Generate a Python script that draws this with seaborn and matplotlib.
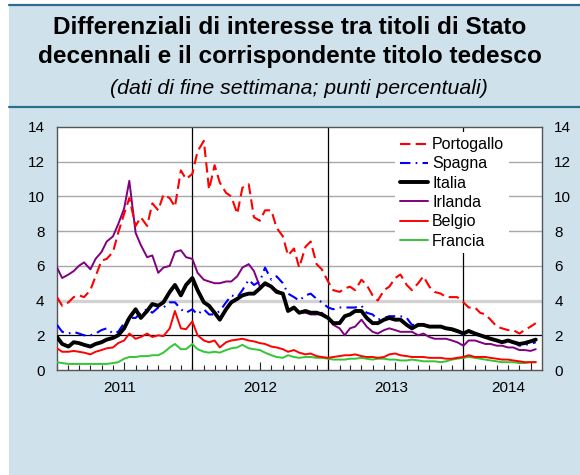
import numpy as np
import pandas as pd
import matplotlib
matplotlib.use("Agg")
import matplotlib.pyplot as plt
import matplotlib.dates as mdates
from matplotlib.patches import Rectangle
from matplotlib.lines import Line2D
import seaborn as sns

# ---------------- data (semi-monthly observations, Jan 2011 - Jul 2014) ----------------
dates = pd.date_range("2011-01-01", periods=86, freq="SMS")

portogallo = [4.2, 3.7, 3.9, 4.2, 4.3, 4.2, 4.6, 5.4, 6.3, 6.4, 6.8, 7.9, 9.0, 9.9, 8.3, 8.8,
              8.3, 9.6, 9.2, 10.1, 9.9, 9.4, 11.5, 11.0, 11.3, 12.6, 13.2, 10.4, 11.8, 10.8,
              10.2, 10.0, 9.0, 10.5, 10.7, 8.8, 8.6, 9.2, 9.2, 8.2, 7.7, 6.6, 7.0, 5.9, 7.1,
              7.4, 6.1, 5.8, 5.1, 4.6, 4.5, 4.7, 4.8, 4.6, 5.2, 4.9, 4.3, 4.0, 4.6, 4.8, 5.3,
              5.5, 4.9, 4.6, 5.0, 5.4, 4.8, 4.5, 4.4, 4.2, 4.2, 4.2, 3.9, 3.6, 3.6, 3.3, 3.2,
              2.9, 2.5, 2.4, 2.3, 2.3, 2.1, 2.3, 2.5, 2.7]
spagna = [2.6, 2.2, 2.1, 2.2, 2.1, 2.0, 2.0, 2.1, 2.3, 2.4, 2.1, 2.2, 2.7, 3.0, 3.0, 3.3,
          3.5, 3.3, 3.6, 3.6, 3.9, 3.9, 3.5, 3.3, 3.5, 3.2, 3.5, 3.2, 3.2, 3.4, 3.9, 4.3,
          4.2, 4.6, 5.2, 4.9, 5.1, 5.9, 5.2, 5.4, 5.0, 4.4, 4.2, 4.0, 4.3, 4.4, 4.1, 3.9,
          3.6, 3.5, 3.6, 3.6, 3.6, 3.6, 3.7, 3.3, 3.2, 2.9, 3.0, 3.1, 3.1, 3.1, 3.0, 2.6,
          2.6, 2.6, 2.5, 2.5, 2.5, 2.4, 2.3, 2.2, 2.0, 2.2, 2.1, 2.0, 1.9, 1.8, 1.7, 1.6,
          1.6, 1.6, 1.4, 1.45, 1.5, 1.6]
italia = [1.9, 1.5, 1.35, 1.6, 1.55, 1.45, 1.35, 1.5, 1.6, 1.75, 1.85, 2.0, 2.4, 3.0, 3.5,
          3.0, 3.4, 3.8, 3.7, 3.9, 4.5, 4.9, 4.3, 4.9, 5.3, 4.6, 3.9, 3.7, 3.3, 2.9, 3.5,
          3.9, 4.1, 4.3, 4.4, 4.4, 4.7, 5.0, 4.8, 4.5, 4.4, 3.4, 3.6, 3.3, 3.4, 3.3, 3.3,
          3.2, 3.0, 2.7, 2.7, 3.1, 3.2, 3.4, 3.4, 3.0, 2.7, 2.7, 2.9, 3.0, 2.9, 2.9, 2.6,
          2.4, 2.6, 2.6, 2.5, 2.5, 2.5, 2.4, 2.35, 2.25, 2.1, 2.25, 2.1, 2.0, 1.9, 1.8,
          1.7, 1.6, 1.7, 1.6, 1.5, 1.55, 1.65, 1.75]
irlanda = [5.9, 5.3, 5.5, 5.7, 6.0, 6.2, 5.8, 6.4, 6.8, 7.4, 7.7, 8.4, 9.3, 10.9, 7.9, 7.2,
           6.5, 6.6, 5.6, 5.9, 6.0, 6.8, 6.9, 6.5, 6.4, 5.6, 5.2, 5.1, 5.0, 5.0, 5.1, 5.1,
           5.4, 5.9, 6.1, 5.7, 4.8, 4.9, 4.8, 4.6, 4.4, 3.4, 3.6, 3.3, 3.3, 3.2, 3.2, 3.3,
           3.0, 2.6, 2.4, 2.0, 2.4, 2.5, 2.9, 2.5, 2.2, 2.1, 2.3, 2.4, 2.3, 2.2, 2.2, 2.2,
           2.0, 2.1, 1.9, 1.8, 1.8, 1.8, 1.7, 1.6, 1.4, 1.7, 1.7, 1.6, 1.5, 1.5, 1.4, 1.4,
           1.3, 1.3, 1.15, 1.15, 1.1, 1.2]
belgio = [1.25, 1.05, 1.05, 1.1, 1.05, 1.0, 0.9, 1.05, 1.15, 1.25, 1.3, 1.55, 1.7, 2.1, 1.8,
          1.9, 2.1, 1.9, 2.0, 1.95, 2.4, 3.4, 2.4, 2.35, 2.8, 2.0, 1.7, 1.6, 1.7, 1.3, 1.6,
          1.7, 1.75, 1.8, 1.7, 1.65, 1.55, 1.5, 1.35, 1.3, 1.2, 1.05, 1.15, 1.0, 0.9, 0.95,
          0.8, 0.75, 0.7, 0.75, 0.8, 0.85, 0.85, 0.9, 0.8, 0.75, 0.75, 0.7, 0.75, 0.9, 0.95,
          0.85, 0.8, 0.75, 0.75, 0.75, 0.7, 0.7, 0.7, 0.65, 0.65, 0.7, 0.75, 0.85, 0.75,
          0.75, 0.75, 0.7, 0.65, 0.6, 0.6, 0.55, 0.5, 0.45, 0.45, 0.45]
francia = [0.45, 0.4, 0.35, 0.35, 0.35, 0.35, 0.35, 0.35, 0.35, 0.35, 0.4, 0.45, 0.65, 0.75,
           0.75, 0.8, 0.8, 0.85, 0.85, 1.0, 1.3, 1.5, 1.2, 1.2, 1.5, 1.2, 1.05, 1.0, 1.05,
           1.0, 1.15, 1.25, 1.3, 1.45, 1.25, 1.2, 1.15, 1.0, 0.85, 0.75, 0.7, 0.85, 0.75,
           0.7, 0.75, 0.75, 0.7, 0.7, 0.65, 0.6, 0.6, 0.6, 0.65, 0.65, 0.7, 0.65, 0.6, 0.65,
           0.65, 0.6, 0.6, 0.55, 0.55, 0.6, 0.55, 0.5, 0.5, 0.5, 0.45, 0.5, 0.6, 0.65, 0.7,
           0.75, 0.7, 0.65, 0.6, 0.55, 0.5, 0.45, 0.45, 0.45, 0.4, 0.4, 0.45, 0.45]

series_names = ["Portogallo", "Spagna", "Italia", "Irlanda", "Belgio", "Francia"]
year_labels = ["2011", "2012", "2013", "2014"]
y_ticks = [0, 2, 4, 6, 8, 10, 12, 14]

title_1 = "Differenziali di interesse tra titoli di Stato"
title_2 = "decennali e il corrispondente titolo tedesco"
subtitle = "(dati di fine settimana; punti percentuali)"

# ---------------- styling ----------------
sns.set_style("white")
plt.rcParams["font.family"] = ["Liberation Sans", "DejaVu Sans"]
plt.rcParams["text.color"] = "black"
plt.rcParams["xtick.color"] = "black"
plt.rcParams["ytick.color"] = "black"
plt.rcParams["xtick.labelcolor"] = "black"
plt.rcParams["ytick.labelcolor"] = "black"

values = {"Portogallo": portogallo, "Spagna": spagna, "Italia": italia,
          "Irlanda": irlanda, "Belgio": belgio, "Francia": francia}
styles = {
    "Portogallo": dict(color="#ff0000", lw=1.5, dashes=(5, 2.5)),
    "Spagna": dict(color="#0000ff", lw=1.5, dashes=(5, 2.5, 0.8, 2.5)),
    "Italia": dict(color="#000000", lw=2.8, dashes=None),
    "Irlanda": dict(color="#800080", lw=1.4, dashes=None),
    "Belgio": dict(color="#ff0000", lw=1.4, dashes=None),
    "Francia": dict(color="#33c633", lw=1.4, dashes=None),
}
draw_order = ["Francia", "Belgio", "Irlanda", "Spagna", "Italia", "Portogallo"]

W, H = 580, 475
fig = plt.figure(figsize=(W / 100, H / 100), dpi=100)
fig.patch.set_facecolor("white")

# light-blue panel
panel_color = "#cfe2ec"
fig.patches.append(Rectangle((9 / W, 0), 1 - 9 / W, 1 - 5 / H, transform=fig.transFigure,
                             facecolor=panel_color, edgecolor="none", zorder=-5))
for ypx in (5, 107):
    fig.add_artist(Line2D([9 / W, 1], [1 - ypx / H, 1 - ypx / H], transform=fig.transFigure,
                          color="#2f6c8e", lw=1.6, zorder=-4))

fig.text(0.50, 1 - 27 / H, title_1, ha="center", va="center", fontsize=17.6,
         fontweight="bold", color="black")
fig.text(0.50, 1 - 57 / H, title_2, ha="center", va="center", fontsize=17.6,
         fontweight="bold", color="black")
fig.text(0.515, 1 - 88 / H, subtitle, ha="center", va="center", fontsize=15.3,
         style="italic", color="black")

ax = fig.add_axes([57 / W, 1 - 370 / H, (541.7 - 57) / W, (370 - 127) / H])
ax.set_zorder(2)
ax.set_facecolor("white")

df = pd.DataFrame({"data": np.tile(dates, len(series_names)),
                   "paese": np.repeat(series_names, len(dates)),
                   "valore": np.concatenate([values[n] for n in series_names])})

for z, name in enumerate(draw_order):
    st = styles[name]
    sub = df[df["paese"] == name]
    sns.lineplot(data=sub, x="data", y="valore", ax=ax, color=st["color"], lw=st["lw"],
                 legend=False, zorder=3 + z)
    line = ax.lines[-1]
    if st["dashes"] is not None:
        line.set_dashes(st["dashes"])
    line.set_solid_joinstyle("round")

# horizontal reference lines
for yv in [6, 8, 10, 12]:
    ax.axhline(yv, color="#a8a8a8", lw=1.0, zorder=1)
ax.axhline(4, color="#d2d2d2", lw=2.4, zorder=1)
ax.axhline(2, color="#000000", lw=0.9, zorder=1)
for yr in ["2012-01-01", "2013-01-01", "2014-01-01"]:
    ax.axvline(pd.Timestamp(yr), color="#000000", lw=0.9, zorder=2)

ax.set_xlim(pd.Timestamp("2011-01-01"), pd.Timestamp("2014-07-31"))
ax.set_ylim(0, 14)
ax.set_xlabel("")
ax.set_ylabel("")

# y ticks both sides
ax.set_yticks(y_ticks)
ax.tick_params(axis="y", length=0, pad=9, labelsize=11, left=True, right=True,
               labelleft=True, labelright=True)

# x ticks: monthly minor, mid-year major, labels as text
ax.xaxis.set_minor_locator(mdates.MonthLocator())
ax.xaxis.set_major_locator(mdates.MonthLocator(bymonth=7, bymonthday=1))
ax.xaxis.set_major_formatter(plt.NullFormatter())
ax.tick_params(axis="x", which="minor", direction="in", length=3.8, width=0.8, color="#222222",
               bottom=True, top=False)
ax.tick_params(axis="x", which="major", direction="in", length=6.0, width=0.8, color="#222222",
               bottom=True, top=False)
label_pos = ["2011-06-20", "2012-07-01", "2013-06-20", "2014-05-01"]
for lab, pos in zip(year_labels, label_pos):
    ax.text(pd.Timestamp(pos), -0.075, lab, transform=ax.get_xaxis_transform(),
            ha="center", va="center", fontsize=11, color="black")

for sp in ax.spines.values():
    sp.set_color("#555555")
    sp.set_linewidth(1.0)
    sp.set_visible(True)

# legend
handles = []
for name in series_names:
    st = styles[name]
    h = Line2D([], [], color=st["color"], lw=st["lw"])
    if st["dashes"] is not None:
        h.set_dashes(st["dashes"])
    handles.append(h)
leg = ax.legend(handles, series_names, loc="upper left", bbox_to_anchor=(0.698, 0.978),
                frameon=True, fontsize=11.5, handlelength=1.75, handletextpad=0.25,
                labelspacing=0.27, borderpad=0.3, borderaxespad=0)
leg.get_frame().set_facecolor("white")
leg.get_frame().set_edgecolor("none")
leg.get_frame().set_alpha(1)
leg.set_zorder(20)
for t in leg.get_texts():
    t.set_color("black")

fig.savefig("out.png", dpi=100, facecolor=fig.get_facecolor())
